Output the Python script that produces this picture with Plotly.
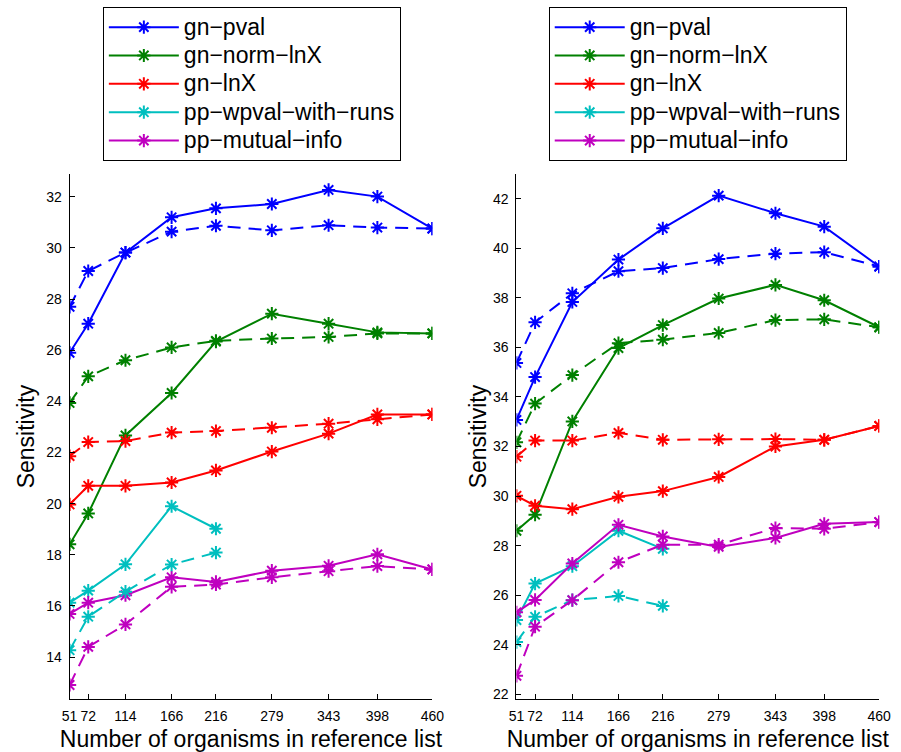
import plotly.graph_objects as go

x_vals = [51, 72, 114, 166, 216, 279, 343, 398, 460]
series_names = ["gn−pval", "gn−norm−lnX", "gn−lnX", "pp−wpval−with−runs", "pp−mutual−info"]
colors = ["#0000ff", "#008000", "#ff0000", "#00bfbf", "#bf00bf"]

# Left panel: solid and dashed series
left_solid = {
    "gn−pval": [25.9, 27.04, 29.82, 31.2, 31.55, 31.72, 32.27, 32.01, 30.76],
    "gn−norm−lnX": [18.41, 19.62, 22.67, 24.33, 26.34, 27.43, 27.04, 26.7, 26.66],
    "gn−lnX": [19.97, 20.7, 20.7, 20.83, 21.3, 22.04, 22.74, 23.49, 23.49],
    "pp−wpval−with−runs": [16.13, 16.6, 17.63, 19.9, 19.02],
    "pp−mutual−info": [15.69, 16.13, 16.42, 17.12, 16.94, 17.38, 17.57, 18.02, 17.43],
}
left_dashed = {
    "gn−pval": [27.7, 29.1, 29.82, 30.64, 30.87, 30.69, 30.89, 30.8, 30.76],
    "gn−norm−lnX": [23.94, 24.98, 25.61, 26.11, 26.37, 26.46, 26.52, 26.66, 26.66],
    "gn−lnX": [21.86, 22.41, 22.45, 22.78, 22.84, 22.97, 23.13, 23.3, 23.49],
    "pp−wpval−with−runs": [14.27, 15.58, 16.56, 17.62, 18.09],
    "pp−mutual−info": [12.91, 14.4, 15.28, 16.75, 16.84, 17.12, 17.36, 17.56, 17.43],
}
# Right panel
right_solid = {
    "gn−pval": [33.07, 34.8, 37.83, 39.54, 40.8, 42.12, 41.41, 40.87, 39.26],
    "gn−norm−lnX": [28.6, 29.25, 33.01, 35.97, 36.9, 37.97, 38.52, 37.9, 36.81],
    "gn−lnX": [30.01, 29.61, 29.47, 29.97, 30.2, 30.77, 32.0, 32.27, 32.83],
    "pp−wpval−with−runs": [25.0, 26.47, 27.17, 28.6, 27.87],
    "pp−mutual−info": [25.31, 25.81, 27.28, 28.84, 28.37, 27.95, 28.31, 28.88, 28.95],
}
right_dashed = {
    "gn−pval": [35.37, 37.01, 38.18, 39.07, 39.2, 39.56, 39.78, 39.84, 39.26],
    "gn−norm−lnX": [32.17, 33.73, 34.88, 36.17, 36.31, 36.58, 37.1, 37.13, 36.81],
    "gn−lnX": [31.59, 32.24, 32.24, 32.55, 32.27, 32.29, 32.3, 32.27, 32.83],
    "pp−wpval−with−runs": [24.11, 25.13, 25.8, 25.97, 25.57],
    "pp−mutual−info": [22.75, 24.73, 25.8, 27.33, 28.04, 28.04, 28.71, 28.68, 28.95],
}

left_yticks = list(range(14, 33, 2))
right_yticks = list(range(22, 43, 2))

FONT = "Liberation Sans, Arial, sans-serif"
fig = go.Figure()


def add_panel(solid, dashed, xa, ya, legend_name):
    for name, col in zip(series_names, colors):
        ys = solid[name]
        fig.add_trace(go.Scatter(
            x=x_vals[:len(ys)], y=ys, mode="lines+markers",
            name='<span style="font-size:23px">' + name + "</span>",
            line=dict(color=col, width=2),
            marker=dict(symbol="asterisk-open", size=11, color=col, line=dict(width=2, color=col)),
            xaxis=xa, yaxis=ya, legend=legend_name, showlegend=True,
        ))
    for name, col in zip(series_names, colors):
        ys = dashed[name]
        fig.add_trace(go.Scatter(
            x=x_vals[:len(ys)], y=ys, mode="lines+markers", name=name,
            line=dict(color=col, width=2, dash="13px,8px"),
            marker=dict(symbol="asterisk-open", size=11, color=col, line=dict(width=2, color=col)),
            xaxis=xa, yaxis=ya, showlegend=False,
        ))


add_panel(left_solid, left_dashed, "x", "y", "legend")
add_panel(right_solid, right_dashed, "x2", "y2", "legend2")

axis_common = dict(
    showline=True, linecolor="black", linewidth=1, mirror=False,
    ticks="inside", ticklen=5, tickcolor="black", showgrid=False, zeroline=False,
    tickfont=dict(family=FONT, size=14, color="black"),
)
title_font = dict(family=FONT, size=23, color="black")

legend_common = dict(
    bgcolor="white", bordercolor="black", borderwidth=1,
    font=dict(family=FONT, size=19.5, color="black"),
    xanchor="left", yanchor="top", itemwidth=70, tracegroupgap=0,
)

fig.update_layout(
    width=901, height=752,
    margin=dict(l=0, r=0, t=0, b=0),
    paper_bgcolor="white", plot_bgcolor="white",
    xaxis=dict(domain=[63 / 901, 434 / 901], range=[51, 460], tickvals=x_vals,
               ticklabelstandoff=4,
               title=dict(text="Number of organisms in reference list", font=title_font, standoff=12),
               anchor="y", **axis_common),
    yaxis=dict(domain=[48 / 752, 577 / 752], range=[12.35, 32.9], tickvals=left_yticks,
               ticklabelstandoff=4,
               title=dict(text="Sensitivity", font=title_font, standoff=5),
               anchor="x", **axis_common),
    xaxis2=dict(domain=[520 / 901, 891 / 901], range=[51, 460], tickvals=x_vals,
                ticklabelstandoff=4,
                title=dict(text="Number of organisms in reference list", font=title_font, standoff=12),
                anchor="y2", **axis_common),
    yaxis2=dict(domain=[48 / 752, 577 / 752], range=[21.8, 43], tickvals=right_yticks,
                ticklabelstandoff=4,
                title=dict(text="Sensitivity", font=title_font, standoff=0),
                anchor="x2", **axis_common),
    legend=dict(x=97 / 901, y=1 - 7 / 752, **legend_common),
    legend2=dict(x=553 / 901, y=1 - 7 / 752, **legend_common),
    showlegend=True,
)

fig.write_html("out.html", config={"displayModeBar": False},
               post_script="document.body.style.margin='0';document.body.style.overflow='hidden';")
